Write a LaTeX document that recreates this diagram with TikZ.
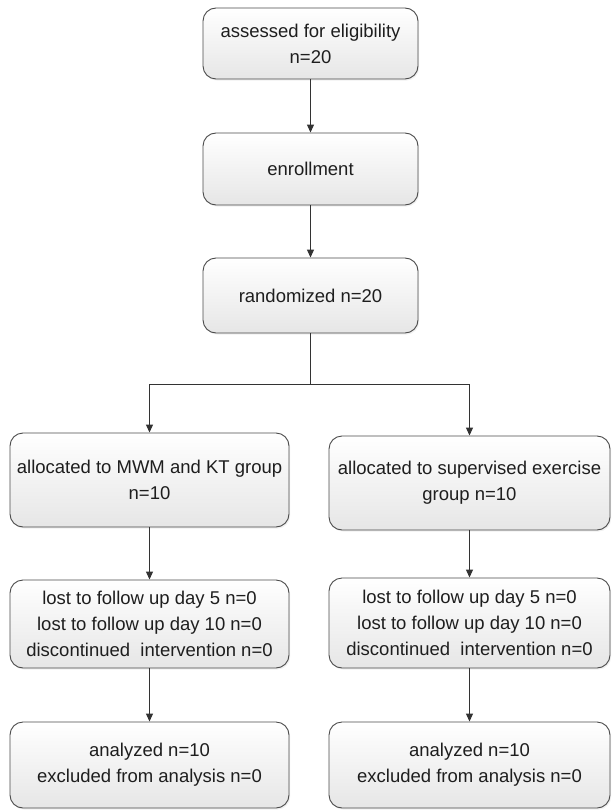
\documentclass[tikz,border=0pt]{standalone}
\usepackage{fontspec}
\setmainfont{Liberation Sans}
\usetikzlibrary{arrows.meta,shadows}
\definecolor{linec}{HTML}{333333}
\definecolor{boxline}{HTML}{4A4A4A}
\definecolor{boxbot}{HTML}{E6E6E6}
\definecolor{txt}{HTML}{1E1E1E}
\begin{document}
\begin{tikzpicture}[x=1pt,y=-1pt,
  flowbox/.style={draw=boxline, line width=0.9pt, rounded corners=13pt,
    top color=white, bottom color=boxbot, align=center, inner sep=0pt,
    text=txt, font=\fontsize{18.5}{26}\selectfont,
    drop shadow={opacity=0.12, shadow xshift=1.2pt, shadow yshift=-1.6pt}},
  conn/.style={draw=linec, line width=1.1pt,
    -{Triangle[length=8pt,width=7pt]}}]
\useasboundingbox (0,0) rectangle (611,810);
\node[flowbox, minimum width=215pt, minimum height=71pt] (assess) at (310.5,43.5)
  {assessed for eligibility\\n=20};
\node[flowbox, minimum width=215pt, minimum height=72pt] (enrol) at (310.5,169)
  {enrollment};
\node[flowbox, minimum width=215pt, minimum height=75pt] (rand) at (310.5,295.5)
  {randomized n=20};
\node[flowbox, minimum width=279pt, minimum height=94pt] (allocA) at (149.5,480)
  {allocated to MWM and KT group\\n=10};
\node[flowbox, minimum width=281pt, minimum height=94pt] (allocB) at (469.5,483)
  {allocated to supervised exercise\\group n=10};
\node[flowbox, minimum width=279pt, minimum height=88pt] (lostA) at (149.5,624)
  {lost to follow up day 5 n=0\\lost to follow up day 10 n=0\\discontinued\ \ intervention n=0};
\node[flowbox, minimum width=281pt, minimum height=90pt] (lostB) at (469.5,623)
  {lost to follow up day 5 n=0\\lost to follow up day 10 n=0\\discontinued\ \ intervention n=0};
\node[flowbox, minimum width=279pt, minimum height=86pt] (anaA) at (149.5,765)
  {analyzed n=10\\excluded from analysis n=0};
\node[flowbox, minimum width=281pt, minimum height=86pt] (anaB) at (469.5,765)
  {analyzed n=10\\excluded from analysis n=0};
\coordinate (split) at (310.5,384.5);
\draw[conn] (assess) -- (enrol);
\draw[conn] (enrol) -- (rand);
\draw[draw=linec, line width=1.1pt] (rand.south) -- (split);
\draw[conn] (split) -| (allocA.north);
\draw[conn] (split) -| (allocB.north);
\draw[conn] (allocA) -- (lostA);
\draw[conn] (allocB) -- (lostB);
\draw[conn] (lostA) -- (anaA);
\draw[conn] (lostB) -- (anaB);
\end{tikzpicture}
\end{document}
